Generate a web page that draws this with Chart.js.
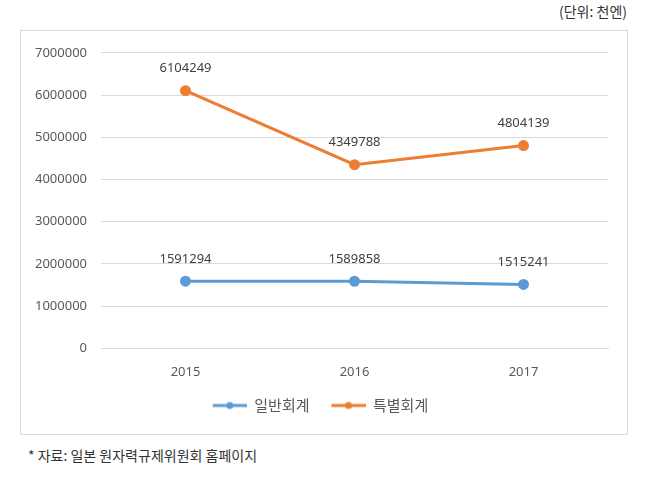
<!DOCTYPE html>
<html>
<head>
<meta charset="utf-8">
<script src="https://cdn.jsdelivr.net/npm/chart.js@4/dist/chart.umd.min.js"></script>
<style>
  body { margin: 0; background: #fff; width: 671px; height: 480px; position: relative; font-family: "Noto Sans CJK KR", sans-serif; }
  #unit { position: absolute; right: 44px; top: 1px; font-size: 14px; color: #333; }
  #box { position: absolute; left: 20px; top: 30px; width: 606px; height: 403px; border: 1px solid #d9d9d9; }
  #note { position: absolute; left: 28px; top: 445px; font-size: 14px; color: #333; }
</style>
</head>
<body>
<div id="unit">(단위: 천엔)</div>
<div id="box"><canvas id="chart" width="606" height="403"></canvas></div>
<div id="note">* 자료: 일본 원자력규제위원회 홈페이지</div>
<script>
const years = ['2015', '2016', '2017'];
const general = [1591294, 1589858, 1515241];
const special = [6104249, 4349788, 4804139];
const seriesNames = ['일반회계', '특별회계'];
const seriesColors = ['#5b9bd5', '#ed7d31'];

// legend marker: line with a dot, with some blank room on the left for item spacing
function legendIcon(color) {
  const c = document.createElement('canvas');
  c.width = 46; c.height = 10;
  const ctx = c.getContext('2d');
  ctx.strokeStyle = color;
  ctx.lineWidth = 3;
  ctx.beginPath(); ctx.moveTo(12, 5); ctx.lineTo(46, 5); ctx.stroke();
  ctx.fillStyle = color;
  ctx.beginPath(); ctx.arc(29, 5, 3.5, 0, Math.PI * 2); ctx.fill();
  return c;
}

const valueLabels = {
  id: 'valueLabels',
  afterDatasetsDraw(chart) {
    const ctx = chart.ctx;
    ctx.save();
    ctx.font = '13px "Noto Sans", sans-serif';
    ctx.fillStyle = '#404040';
    ctx.textAlign = 'center';
    ctx.textBaseline = 'middle';
    chart.data.datasets.forEach((ds, i) => {
      chart.getDatasetMeta(i).data.forEach((pt, j) => {
        ctx.fillText(ds.data[j], pt.x, pt.y - 22);
      });
    });
    ctx.restore();
  }
};

new Chart(document.getElementById('chart'), {
  type: 'line',
  data: {
    labels: years,
    datasets: [
      { label: seriesNames[0], data: general, borderColor: seriesColors[0], backgroundColor: seriesColors[0],
        borderWidth: 3, pointRadius: 4, pointStyle: 'circle', tension: 0 },
      { label: seriesNames[1], data: special, borderColor: seriesColors[1], backgroundColor: seriesColors[1],
        borderWidth: 3, pointRadius: 4, pointStyle: 'circle', tension: 0 }
    ]
  },
  options: {
    responsive: false,
    animation: false,
    layout: { padding: { top: 21, right: 19, bottom: 11, left: 0 } },
    plugins: {
      legend: {
        position: 'bottom',
        labels: {
          usePointStyle: true,
          pointStyleWidth: 46,
          font: { family: '"Noto Sans CJK KR"', size: 15 },
          color: '#595959',
          padding: 10,
          generateLabels(chart) {
            return chart.data.datasets.map((ds, i) => ({
              text: ds.label,
              pointStyle: legendIcon(seriesColors[i]),
              fillStyle: seriesColors[i],
              strokeStyle: seriesColors[i],
              fontColor: '#595959',
              datasetIndex: i
            }));
          }
        }
      },
      tooltip: { enabled: false }
    },
    scales: {
      x: {
        offset: true,
        grid: { display: false },
        border: { display: true, color: '#d9d9d9' },
        ticks: { font: { family: '"Noto Sans"', size: 13 }, color: '#595959', padding: 8 }
      },
      y: {
        min: 0, max: 7000000,
        afterFit(scale) { scale.width = 80; },
        grid: { color: '#d9d9d9', drawTicks: false },
        border: { display: false },
        ticks: {
          stepSize: 1000000, font: { family: '"Noto Sans"', size: 13 }, color: '#595959', padding: 14,
          callback: v => String(v)
        }
      }
    }
  },
  plugins: [valueLabels]
});
</script>
</body>
</html>
